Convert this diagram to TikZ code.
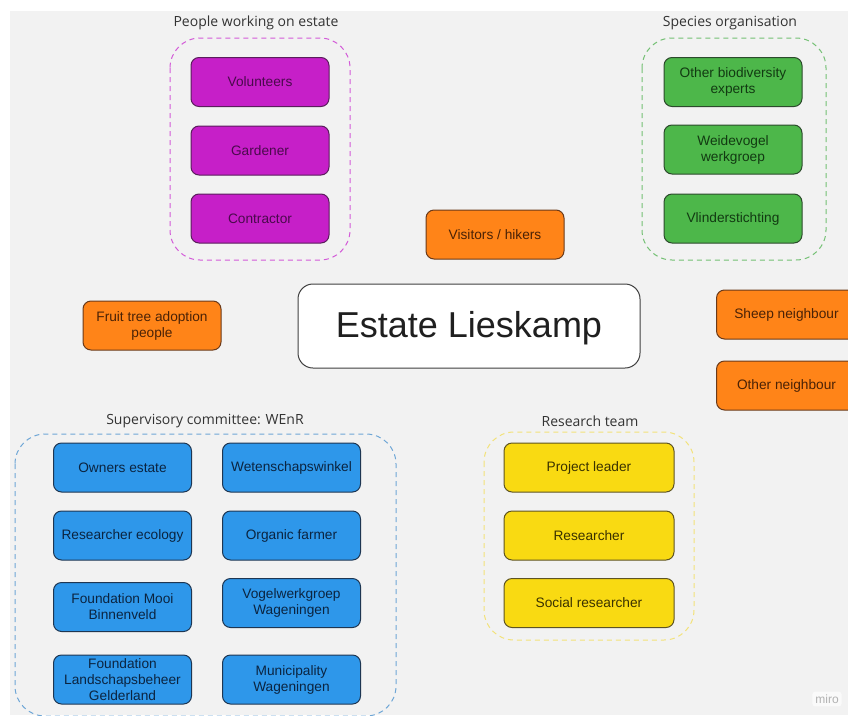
\documentclass[tikz,border=0pt]{standalone}
\usepackage{fontspec}
\setmainfont{Liberation Sans}
\newfontfamily\titlefont{Open Sans}
\definecolor{bggrey}{HTML}{F2F2F2}
\definecolor{magfill}{HTML}{C61FC8}
\definecolor{magtext}{HTML}{4A0A4C}
\definecolor{magline}{HTML}{5A1E5C}
\definecolor{magdash}{HTML}{D35AD8}
\definecolor{grnfill}{HTML}{4DB74A}
\definecolor{grntext}{HTML}{123A12}
\definecolor{grnline}{HTML}{2C4A2C}
\definecolor{grndash}{HTML}{74C074}
\definecolor{orgfill}{HTML}{FF8418}
\definecolor{orgtext}{HTML}{4A2206}
\definecolor{orgline}{HTML}{6A3A1A}
\definecolor{blufill}{HTML}{2E97EA}
\definecolor{blutext}{HTML}{0B2440}
\definecolor{bluline}{HTML}{1E3652}
\definecolor{bludash}{HTML}{6EA6D6}
\definecolor{ylwfill}{HTML}{F9DA12}
\definecolor{ylwtext}{HTML}{3A3200}
\definecolor{ylwline}{HTML}{5E5422}
\definecolor{ylwdash}{HTML}{F2E27A}
\definecolor{titlegrey}{HTML}{333333}
\begin{document}
\begin{tikzpicture}[x=1pt,y=-1pt,
  box/.style={rounded corners=8pt, line width=1pt, minimum width=138pt, minimum height=49pt,
    inner sep=2pt, align=center, font=\fontsize{13.7}{16}\selectfont},
  magbox/.style={box, fill=magfill, draw=magline, text=magtext},
  grnbox/.style={box, fill=grnfill, draw=grnline, text=grntext},
  orgbox/.style={box, fill=orgfill, draw=orgline, text=orgtext},
  blubox/.style={box, fill=blufill, draw=bluline, text=blutext},
  ylwbox/.style={box, fill=ylwfill, draw=ylwline, text=ylwtext},
  grp/.style={rounded corners=30pt, line width=1pt, dash pattern=on 5pt off 4pt},
  grptitle/.style={font=\titlefont\fontsize{14}{16}\selectfont, text=titlegrey, inner sep=0pt}
]
\useasboundingbox (0,0) rectangle (848,715);
\fill[white] (0,0) rectangle (848,715);
\fill[bggrey] (10,11) rectangle (848,715);

% People working on estate
\node[grptitle] (t1) at (256,23) {People working on estate};
\draw[grp, draw=magdash] (170,38) rectangle (350,260);
\node[magbox] (vol) at (260,82) {Volunteers};
\node[magbox] (gar) at (260,150.5) {Gardener};
\node[magbox] (con) at (260,218.5) {Contractor};

% Species organisation
\node[grptitle] (t2) at (730,23) {Species organisation};
\draw[grp, draw=grndash] (642,38) rectangle (826,260);
\node[grnbox] (obe) at (733,82) {Other biodiversity\\experts};
\node[grnbox] (wvw) at (733,149.5) {Weidevogel\\werkgroep};
\node[grnbox] (vls) at (733,218.5) {Vlinderstichting};

% Free orange nodes
\node[orgbox] (vis) at (495,234.5) {Visitors / hikers};
\node[orgbox] (fta) at (152,325.5) {Fruit tree adoption\\people};
\node[orgbox, minimum width=140pt, anchor=west] (shp) at (716,314.5) {Sheep neighbour};
\node[orgbox, minimum width=140pt, anchor=west] (oth) at (716,385.5) {Other neighbour};

% Centre
\node[rounded corners=15pt, line width=1pt, draw=black!75, fill=white,
  minimum width=342pt, minimum height=84pt, font=\fontsize{36}{40}\selectfont,
  text=black!88, text depth=3pt] (est) at (469,326) {Estate Lieskamp};

% Supervisory committee
\node[grptitle] (t3) at (205,421) {Supervisory committee: WEnR};
\draw[grp, draw=bludash] (15,434) rectangle (396,716);
\node[blubox] (own) at (122.5,467.5) {Owners estate};
\node[blubox] (wet) at (291.5,467.5) {Wetenschapswinkel};
\node[blubox] (rec) at (122.5,535.5) {Researcher ecology};
\node[blubox] (orf) at (291.5,535.5) {Organic farmer};
\node[blubox] (fmb) at (122.5,607) {Foundation Mooi\\Binnenveld};
\node[blubox] (vwg) at (291.5,603) {Vogelwerkgroep\\Wageningen};
\node[blubox] (flg) at (122.5,679.5) {Foundation\\Landschapsbeheer\\Gelderland};
\node[blubox] (mun) at (291.5,679.5) {Municipality\\Wageningen};

% Research team
\node[grptitle] (t4) at (590,421) {Research team};
\draw[grp, draw=ylwdash] (484,432) rectangle (694,640);
\node[ylwbox, minimum width=170pt] (prl) at (589,467.5) {Project leader};
\node[ylwbox, minimum width=170pt] (res) at (589,535.5) {Researcher};
\node[ylwbox, minimum width=170pt] (soc) at (589,603) {Social researcher};

% miro mark
\node[fill=white!60!bggrey, rounded corners=3pt, inner sep=3pt, text=black!30,
  font=\fontsize{12}{12}\selectfont] (miro) at (827,699) {miro};
\end{tikzpicture}
\end{document}
